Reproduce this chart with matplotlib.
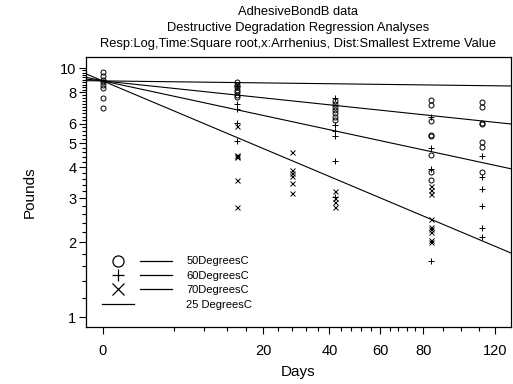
import numpy as np
import matplotlib
matplotlib.use("Agg")
import matplotlib.pyplot as plt
from matplotlib.lines import Line2D
from matplotlib.legend_handler import HandlerTuple

plt.rcParams['font.family'] = ['Liberation Sans', 'DejaVu Sans']

# observed strength (pounds) by inspection time (days) for each stress level
days_50 = [0, 0, 0, 0, 0, 0, 0, 0,
           14, 14, 14, 14, 14, 14, 14,
           42, 42, 42, 42, 42, 42, 42,
           84, 84, 84, 84, 84, 84, 84, 84,
           112, 112, 112, 112, 112, 112, 112]
lbs_50 = [9.7, 9.3, 9.0, 8.8, 8.6, 8.3, 7.6, 6.9,
          8.8, 8.6, 8.4, 8.2, 8.0, 7.8, 7.7,
          7.4, 7.2, 7.0, 6.8, 6.6, 6.4, 6.2,
          7.45, 7.15, 6.15, 5.4, 5.35, 4.5, 3.85, 3.55,
          7.3, 7.0, 6.05, 6.0, 5.05, 4.85, 3.85]

days_60 = [14, 14, 14, 14, 14,
           42, 42, 42, 42, 42, 42,
           84, 84, 84, 84,
           112, 112, 112, 112, 112, 112]
lbs_60 = [8.5, 7.2, 6.85, 6.05, 5.1,
          7.6, 5.9, 5.6, 5.35, 4.25, 3.05,
          6.4, 4.8, 3.95, 1.68,
          4.45, 3.65, 3.27, 2.8, 2.28, 2.1]

days_70 = [14, 14, 14, 14, 14, 14,
           28, 28, 28, 28, 28, 28,
           42, 42, 42, 42,
           84, 84, 84, 84, 84, 84, 84, 84, 84]
lbs_70 = [5.85, 4.5, 4.45, 4.4, 3.55, 2.78,
          4.6, 3.9, 3.8, 3.7, 3.45, 3.15,
          3.2, 3.0, 2.9, 2.78,
          3.37, 3.25, 3.13, 2.47, 2.31, 2.26, 2.21, 2.04, 2.01]

# fitted model: log10(lbs) = fit_icpt + slope * sqrt(days)
fit_icpt = np.log10(8.9)
fit_labels = ["50DegreesC", "60DegreesC", "70DegreesC", "25 DegreesC"]
fit_slopes = [-0.0152, -0.031, -0.0607, -0.0018]

x_major = [0, 20, 40, 60, 80, 120]
x_minor = [4, 8, 12, 16, 24, 28, 32, 36, 44, 48, 52, 56, 64, 68, 72, 76,
           90, 100, 110]
y_major = [1, 2, 3, 4, 5, 6, 8, 10]


def fwd(x):
    x = np.asarray(x, dtype=float)
    return np.sign(x) * np.sqrt(np.abs(x))


def inv(x):
    x = np.asarray(x, dtype=float)
    return np.sign(x) * x ** 2


fig = plt.figure(figsize=(5.13, 3.84), dpi=100)
ax = fig.add_axes([86 / 513, 1 - 327 / 384, 425 / 513, 270 / 384])
ax.set_xscale('function', functions=(fwd, inv))
ax.set_yscale('log')
xlo, xhi = -0.217, 129.7
ax.set_xlim(xlo, xhi)
ax.set_ylim(0.914, 11.1)

mk = dict(linestyle='none', color='black', markerfacecolor='none', markeredgewidth=0.7)
ax.plot(days_50, lbs_50, marker='o', markersize=3.6, **mk)
ax.plot(days_60, lbs_60, marker='+', markersize=4.5, **mk)
ax.plot(days_70, lbs_70, marker='x', markersize=3.6, **mk)

tt = inv(np.linspace(fwd(xlo), fwd(xhi), 200))
for slope in fit_slopes:
    ax.plot(tt, 10 ** (fit_icpt + slope * fwd(tt)), color='black', lw=0.8)

ax.set_xticks(x_major)
ax.set_xticklabels([str(v) for v in x_major])
ax.set_xticks(x_minor, minor=True)
ax.set_yticks(y_major)
ax.set_yticklabels([str(v) for v in y_major])
ysub = [v / 10 for v in range(10, 101, 2) if v / 10 not in y_major]
ax.set_yticks(ysub, minor=True)
ax.yaxis.set_minor_formatter(plt.NullFormatter())
ax.tick_params(which='major', length=5, width=0.8, labelsize=10.5)
ax.tick_params(which='minor', length=3, width=0.8)
ax.tick_params(axis='x', pad=7)
ax.tick_params(axis='y', pad=2)
for s in ax.spines.values():
    s.set_linewidth(0.9)

ax.set_xlabel("Days", fontsize=11, labelpad=5)
ax.set_ylabel("Pounds", fontsize=11, labelpad=17)
fig.text(298 / 513, 1 - 12 / 384, "AdhesiveBondB data", ha='center', va='center', fontsize=9.3)
fig.text(298 / 513, 1 - 28 / 384, "Destructive Degradation Regression Analyses", ha='center', va='center', fontsize=9.3)
fig.text(298 / 513, 1 - 44 / 384, "Resp:Log,Time:Square root,x:Arrhenius, Dist:Smallest Extreme Value",
         ha='center', va='center', fontsize=9.3)

# legend: marker + line for each stress, line alone for use condition
lk = dict(color='black', lw=0.9)
h_line = Line2D([], [], **lk)
h_blank = Line2D([], [], lw=0, color='none')
handles = [
    (Line2D([], [], marker='o', markersize=8, **{**mk, 'markeredgewidth': 0.9}), h_line),
    (Line2D([], [], marker='+', markersize=9, **{**mk, 'markeredgewidth': 0.9}), h_line),
    (Line2D([], [], marker='x', markersize=8, **{**mk, 'markeredgewidth': 0.9}), h_line),
    (h_line, h_blank),
]
ax.legend(handles, fit_labels, handler_map={tuple: HandlerTuple(ndivide=None, pad=0.5)},
          loc='lower left', bbox_to_anchor=(16 / 425, 17.5 / 270), frameon=False,
          fontsize=8, handlelength=6.3, handletextpad=1.3, labelspacing=0.39,
          borderpad=0, borderaxespad=0)

fig.savefig("out.png", dpi=100)
